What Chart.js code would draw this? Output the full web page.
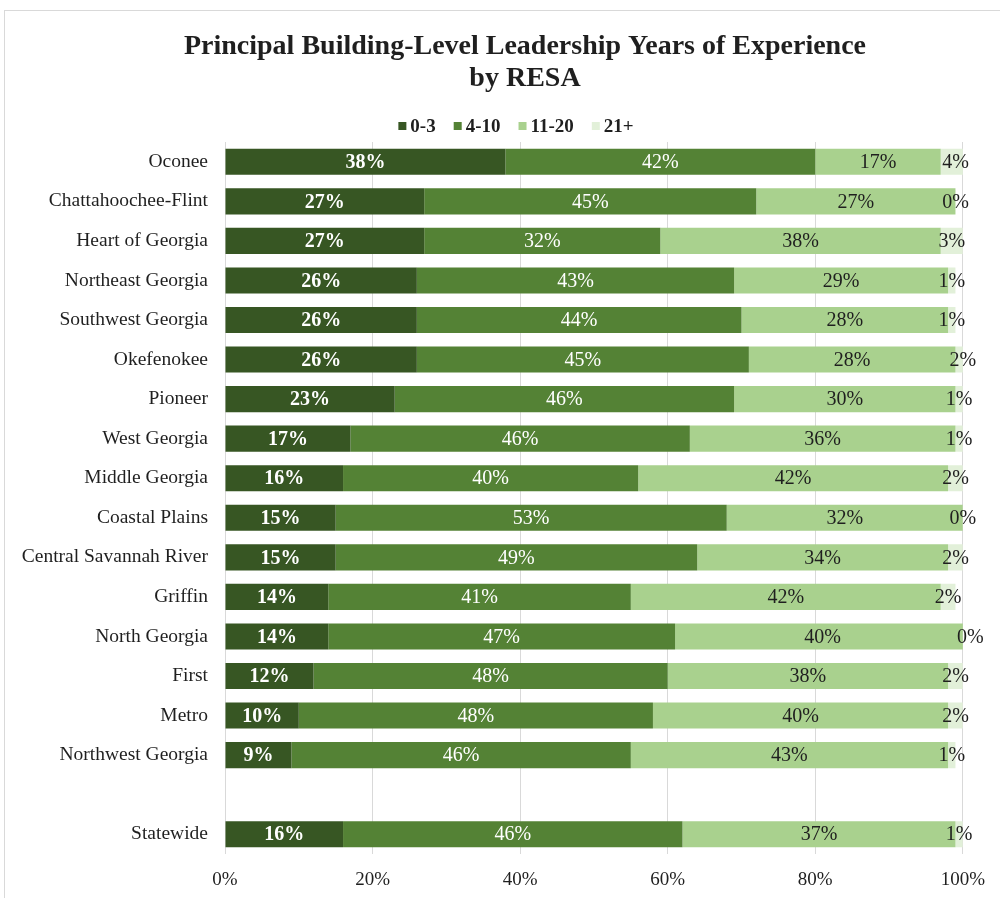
<!DOCTYPE html>
<html>

<head>
    <title>Principal Experience by RESA</title>
    <script src="https://cdn.jsdelivr.net/npm/chart.js@4.4.1/dist/chart.umd.min.js"></script>
    <style>
        body { margin: 0; background: #fff; overflow: hidden; }
        #wrap { width: 1000px; height: 898px; position: relative; }
    </style>
</head>

<body>
    <div id="wrap">
        <canvas id="myChart"></canvas>
    </div>
</body>
<script>
    // regions, with an empty slot before the statewide row
    const regions = [
        'Oconee', 'Chattahoochee-Flint', 'Heart of Georgia', 'Northeast Georgia',
        'Southwest Georgia', 'Okefenokee', 'Pioneer', 'West Georgia',
        'Middle Georgia', 'Coastal Plains', 'Central Savannah River', 'Griffin',
        'North Georgia', 'First', 'Metro', 'Northwest Georgia', '', 'Statewide'
    ];

    // percent of principals in each experience band
    const yrs0to3 = [38, 27, 27, 26, 26, 26, 23, 17, 16, 15, 15, 14, 14, 12, 10, 9, null, 16];
    const yrs4to10 = [42, 45, 32, 43, 44, 45, 46, 46, 40, 53, 49, 41, 47, 48, 48, 46, null, 46];
    const yrs11to20 = [17, 27, 38, 29, 28, 28, 30, 36, 42, 32, 34, 42, 40, 38, 40, 43, null, 37];
    const yrs21plus = [4, 0, 3, 1, 1, 2, 1, 1, 2, 0, 2, 2, 0, 2, 2, 1, null, 1];

    const xTicks = [0, 20, 40, 60, 80, 100];

    const titleLines = ['Principal Building-Level Leadership Years of Experience', 'by RESA'];

    const serif = "'Liberation Serif', 'Times New Roman', serif";
    const textColor = '#1f1f1f';

    // light frame around the whole figure
    const framePlugin = {
        id: 'frame',
        beforeDraw(chart) {
            const ctx = chart.ctx;
            ctx.save();
            ctx.fillStyle = '#fff';
            ctx.fillRect(0, 0, chart.width, chart.height);
            ctx.strokeStyle = '#d9d9d9';
            ctx.lineWidth = 1;
            ctx.strokeRect(4.5, 10.5, chart.width + 10, chart.height + 10);
            ctx.restore();
        }
    };

    // two-line title and the series key, drawn above the plot
    const headerPlugin = {
        id: 'header',
        afterDraw(chart) {
            const ctx = chart.ctx;
            ctx.save();
            ctx.fillStyle = textColor;
            ctx.textAlign = 'center';
            ctx.textBaseline = 'middle';
            ctx.font = 'bold 28px ' + serif;
            titleLines.forEach((line, i) => ctx.fillText(line, 525, 47 + i * 32));

            // legend: small square, gap, bold label
            const box = 8, gap = 4, spacing = 18;
            ctx.font = 'bold 19px ' + serif;
            const items = chart.data.datasets.map(ds => ({
                text: ds.label,
                color: ds.backgroundColor,
                w: box + gap + ctx.measureText(ds.label).width
            }));
            const total = items.reduce((s, it) => s + it.w, 0) + spacing * (items.length - 1);
            let x = 516 - total / 2;
            const y = 127;
            ctx.textAlign = 'left';
            items.forEach(it => {
                ctx.fillStyle = it.color;
                ctx.fillRect(x, y - box / 2 - 1, box, box);
                ctx.fillStyle = textColor;
                ctx.fillText(it.text, x + box + gap, y);
                x += it.w + spacing;
            });
            ctx.restore();
        }
    };

    // percent text centred on every bar segment
    const segmentLabels = {
        id: 'segmentLabels',
        afterDatasetsDraw(chart) {
            const ctx = chart.ctx;
            ctx.save();
            ctx.textAlign = 'center';
            ctx.textBaseline = 'middle';
            chart.data.datasets.forEach((ds, i) => {
                const meta = chart.getDatasetMeta(i);
                meta.data.forEach((bar, j) => {
                    const v = ds.data[j];
                    if (v === null || v === undefined) return;
                    const p = bar.getProps(['x', 'y', 'base'], true);
                    ctx.font = (i === 0 ? 'bold ' : '') + '20px ' + serif;
                    ctx.fillStyle = i < 2 ? '#ffffff' : textColor;
                    ctx.fillText(v + '%', (p.x + p.base) / 2, p.y + 1);
                });
            });
            ctx.restore();
        }
    };

    const data = {
        labels: regions,
        datasets: [
            { label: '0-3', data: yrs0to3, backgroundColor: '#375623' },
            { label: '4-10', data: yrs4to10, backgroundColor: '#548235' },
            { label: '11-20', data: yrs11to20, backgroundColor: '#a9d18e' },
            { label: '21+', data: yrs21plus, backgroundColor: '#e2f0d9' }
        ]
    };

    const config = {
        type: 'bar',
        data: data,
        plugins: [framePlugin, headerPlugin, segmentLabels],
        options: {
            indexAxis: 'y',
            responsive: true,
            maintainAspectRatio: false,
            animation: false,
            layout: { padding: { left: 0, right: 29, top: 142, bottom: 6 } },
            datasets: {
                bar: { categoryPercentage: 1, barPercentage: 0.66 }
            },
            plugins: {
                tooltip: { enabled: false },
                title: { display: false },
                legend: { display: false }
            },
            scales: {
                x: {
                    stacked: true,
                    min: 0,
                    max: 100,
                    afterBuildTicks: (s) => { s.ticks = xTicks.map(v => ({ value: v })); },
                    afterFit: (s) => { s.height = 38; },
                    ticks: {
                        color: textColor,
                        font: { family: serif, size: 19 },
                        padding: 15,
                        callback: (v) => v + '%'
                    },
                    grid: { color: '#d9d9d9', drawTicks: false },
                    border: { display: false }
                },
                y: {
                    stacked: true,
                    afterFit: (s) => { s.width = 225; },
                    ticks: {
                        color: textColor,
                        font: { family: serif, size: 19.5 },
                        padding: 17
                    },
                    grid: { display: false, drawTicks: false },
                    border: { display: false }
                }
            }
        }
    };

    const myChart = new Chart(document.getElementById('myChart'), config);
</script>

</html>
